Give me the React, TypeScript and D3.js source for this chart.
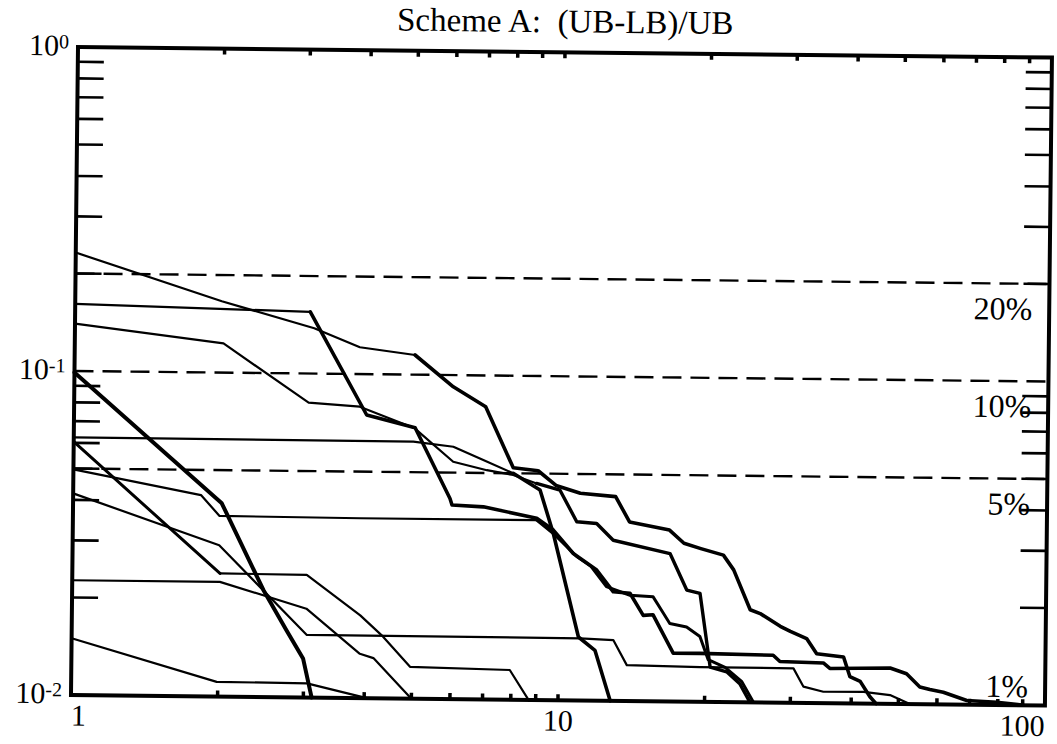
import React from "react";
import * as d3 from "d3";

// ---------- data (x = iteration, y = relative gap (UB-LB)/UB) ----------
const seriesA: [number, number][] = [
  [1, 0.232], [2, 0.166], [3.1, 0.138], [3.85, 0.121], [5, 0.115], [6, 0.092], [7, 0.08],
  [8, 0.052], [9, 0.051], [9.8, 0.046], [11, 0.0436], [13, 0.0427], [13.9, 0.0357],
  [16.8, 0.0338], [18, 0.0308], [19.5, 0.0297], [21.7, 0.0284], [22.8, 0.0256],
  [24.7, 0.0193], [25.9, 0.0188], [28.5, 0.0172], [29.9, 0.0166], [32.3, 0.0158],
  [33.9, 0.0142], [38.5, 0.0139], [39.7, 0.0121], [41.7, 0.0117], [43.7, 0.0105], [45, 0.01],
];
const seriesB: [number, number][] = [
  [1, 0.161], [3.04, 0.155], [3.99, 0.0748], [5.02, 0.0686], [5.94, 0.0416], [6.0, 0.0397],
  [6.96, 0.0393], [8.96, 0.0364], [9.7, 0.0335], [10.67, 0.0284], [11.93, 0.0253],
  [12.92, 0.0217], [13.98, 0.0215], [14.9, 0.0184], [15.6, 0.0185], [17.2, 0.0141],
  [19.5, 0.0141], [27.6, 0.014], [28.5, 0.0134], [35, 0.0133], [36.1, 0.0128], [48, 0.0129],
  [51.9, 0.0124], [55.3, 0.0113], [58, 0.0111], [61.8, 0.0109], [69.1, 0.0103],
  [79.6, 0.0102], [90.3, 0.01],
];
const seriesC: [number, number][] = [
  [1, 0.14], [2.02, 0.123], [3.03, 0.0813], [3.86, 0.0793], [5.01, 0.0683], [6.02, 0.054],
  [7.06, 0.051], [8.0, 0.0494], [8.94, 0.0466], [9.99, 0.0445], [10.83, 0.0356],
  [11.9, 0.0352], [12.88, 0.0313], [16.86, 0.0286], [18.28, 0.0221], [19.47, 0.0216],
  [20.5, 0.0128], [22.17, 0.0124], [23.6, 0.0114], [24.8, 0.01],
];
const seriesD: [number, number][] = [
  [1, 0.099], [2.02, 0.0395], [2.47, 0.0214], [2.76, 0.0161], [2.99, 0.0132], [3.12, 0.01],
];
const seriesE: [number, number][] = [
  [1, 0.0624], [4.98, 0.0621], [6.02, 0.0601], [6.94, 0.0548], [8.0, 0.05], [9.09, 0.0445],
  [9.7, 0.0327], [10.98, 0.0157], [11.88, 0.0143], [12.8, 0.01],
];
const seriesF: [number, number][] = [
  [1, 0.0605], [2.01, 0.024], [3.03, 0.0239], [3.91, 0.018], [4.36, 0.0155], [4.96, 0.01254],
  [7.95, 0.01235], [8.7, 0.01],
];
const seriesG: [number, number][] = [
  [1, 0.0497], [1.83, 0.0418], [2.0, 0.0361], [3.89, 0.0359], [8.96, 0.0359], [9.7, 0.0327],
  [10.85, 0.0278], [11.6, 0.026], [12.5, 0.0225], [13.98, 0.0212], [15.6, 0.021],
  [16.39, 0.0187], [16.9, 0.0174], [18.3, 0.017], [19.5, 0.0159], [20.3, 0.0135],
  [22.0, 0.0128], [23.8, 0.0116], [25.2, 0.01],
];
const seriesH: [number, number][] = [
  [1, 0.0419], [2.0, 0.0293], [3.04, 0.0156], [11.07, 0.01555], [12.95, 0.0154],
  [13.82, 0.0129], [19.54, 0.0128], [30.4, 0.01277], [31.9, 0.01122], [35.05, 0.01084],
  [42.4, 0.01087], [48.05, 0.01064], [52.8, 0.01],
];
const seriesI: [number, number][] = [
  [1, 0.0226], [2.01, 0.0226], [3.03, 0.0188], [3.91, 0.0137], [4.17, 0.0133], [5.0, 0.01],
];
const seriesJ: [number, number][] = [
  [1, 0.01496], [1.99, 0.0111], [3.05, 0.01106], [4.05, 0.01],
];

const xMinorTicks = [2, 3, 4, 5, 6, 7, 8, 9, 10, 20, 30, 40, 50, 60, 70, 80, 90];
const yMinorTicks = [0.02, 0.03, 0.04, 0.05, 0.06, 0.07, 0.08, 0.09, 0.2, 0.3, 0.4, 0.5, 0.6, 0.7, 0.8, 0.9];
const xTickLabels = [
  { v: 1, t: "1" },
  { v: 10, t: "10" },
  { v: 100, t: "100" },
];
const yTickLabels = [
  { v: 1, base: "10", exp: "0" },
  { v: 0.1, base: "10", exp: "-1" },
  { v: 0.01, base: "10", exp: "-2" },
];
const gapLevels = [0.2, 0.1, 0.05];
const gapLabels = [
  { v: 0.2, t: "20%" },
  { v: 0.1, t: "10%" },
  { v: 0.05, t: "5%" },
  { v: 0.01, t: "1%" },
];
const titleText = "Scheme A:  (UB-LB)/UB";

// ---------- styles (line widths per x-range) ----------
type Seg = { from: number; w: number };
const seriesList: { data: [number, number][]; segs: Seg[] }[] = [
  { data: seriesA, segs: [{ from: 1, w: 2.2 }, { from: 5, w: 3.6 }] },
  { data: seriesB, segs: [{ from: 1, w: 2.2 }, { from: 3.04, w: 3.6 }] },
  { data: seriesC, segs: [{ from: 1, w: 2.2 }, { from: 8.94, w: 3.4 }] },
  { data: seriesD, segs: [{ from: 1, w: 4 }] },
  { data: seriesE, segs: [{ from: 1, w: 2.2 }, { from: 8.0, w: 3.6 }] },
  { data: seriesF, segs: [{ from: 1, w: 3 }, { from: 2.01, w: 2.2 }] },
  { data: seriesG, segs: [{ from: 1, w: 2.2 }, { from: 8.96, w: 3 }] },
  { data: seriesH, segs: [{ from: 1, w: 2.2 }] },
  { data: seriesI, segs: [{ from: 1, w: 2.2 }] },
  { data: seriesJ, segs: [{ from: 1, w: 2.2 }] },
];

const W = 974;
const H = 648;
const OX = 78;
const OY = 47;
const FONT = "'Liberation Serif', 'Times New Roman', Times, serif";

export default function App() {
  const x = d3.scaleLog().domain([1, 100]).range([0, W]);
  const y = d3.scaleLog().domain([0.01, 1]).range([H, 0]);
  const line = d3
    .line<[number, number]>()
    .x((d) => x(d[0]))
    .y((d) => y(d[1]));

  const paths: { d: string; w: number }[] = [];
  seriesList.forEach((s) => {
    s.segs.forEach((seg, i) => {
      const to = i + 1 < s.segs.length ? s.segs[i + 1].from : Infinity;
      const pts = s.data.filter((p) => p[0] >= seg.from && p[0] <= to);
      if (pts.length > 1) paths.push({ d: line(pts) || "", w: seg.w });
    });
  });

  return (
    <svg
      width={1057}
      height={744}
      style={{ position: "absolute", left: 0, top: 0, background: "#fff" }}
      fontFamily={FONT}
    >
      <rect x={0} y={0} width={1057} height={744} fill="#fff" />
      <g transform={`rotate(0.62, ${OX}, ${OY}) translate(${OX}, ${OY})`}>
        <text x={W / 2} y={-20} textAnchor="middle" fontSize={33} style={{ whiteSpace: "pre" }}>
          {titleText}
        </text>

        {gapLevels.map((v) => (
          <line
            key={v}
            x1={0}
            x2={W}
            y1={y(v)}
            y2={y(v)}
            stroke="#000"
            strokeWidth={2.4}
            strokeDasharray="19 9"
          />
        ))}

        {paths.map((p, i) => (
          <path
            key={i}
            d={p.d}
            fill="none"
            stroke="#000"
            strokeWidth={p.w}
            strokeLinejoin="round"
            strokeLinecap="round"
          />
        ))}

        {yMinorTicks.map((v) => (
          <g key={"y" + v}>
            <line x1={0} x2={26} y1={y(v)} y2={y(v)} stroke="#000" strokeWidth={2.6} />
            <line x1={W - 26} x2={W} y1={y(v)} y2={y(v)} stroke="#000" strokeWidth={2.6} />
          </g>
        ))}
        {xMinorTicks.map((v) => (
          <g key={"x" + v}>
            <line x1={x(v)} x2={x(v)} y1={0} y2={6} stroke="#000" strokeWidth={3.5} />
            <line x1={x(v)} x2={x(v)} y1={H - 6} y2={H} stroke="#000" strokeWidth={3.5} />
          </g>
        ))}

        <rect x={0} y={0} width={W} height={H} fill="none" stroke="#000" strokeWidth={4} />

        {yTickLabels.map((l) => (
          <text key={l.exp} x={-9} y={y(l.v) + 8.5} textAnchor="end" fontSize={30}>
            <tspan>{l.base}</tspan>
            <tspan fontSize={20} dy={-7}>
              {l.exp}
            </tspan>
          </text>
        ))}
        {xTickLabels.map((l, i) => (
          <text
            key={l.t}
            x={x(l.v)}
            y={H + 30.5}
            fontSize={30}
            textAnchor={i === 0 ? "start" : i === xTickLabels.length - 1 ? "end" : "middle"}
          >
            {l.t}
          </text>
        ))}

        {gapLabels.map((l) => (
          <text
            key={l.t}
            x={W - 17}
            y={l.v === 0.01 ? y(l.v) - 8 : y(l.v) + 36}
            textAnchor="end"
            fontSize={32}
          >
            {l.t}
          </text>
        ))}
      </g>
    </svg>
  );
}
